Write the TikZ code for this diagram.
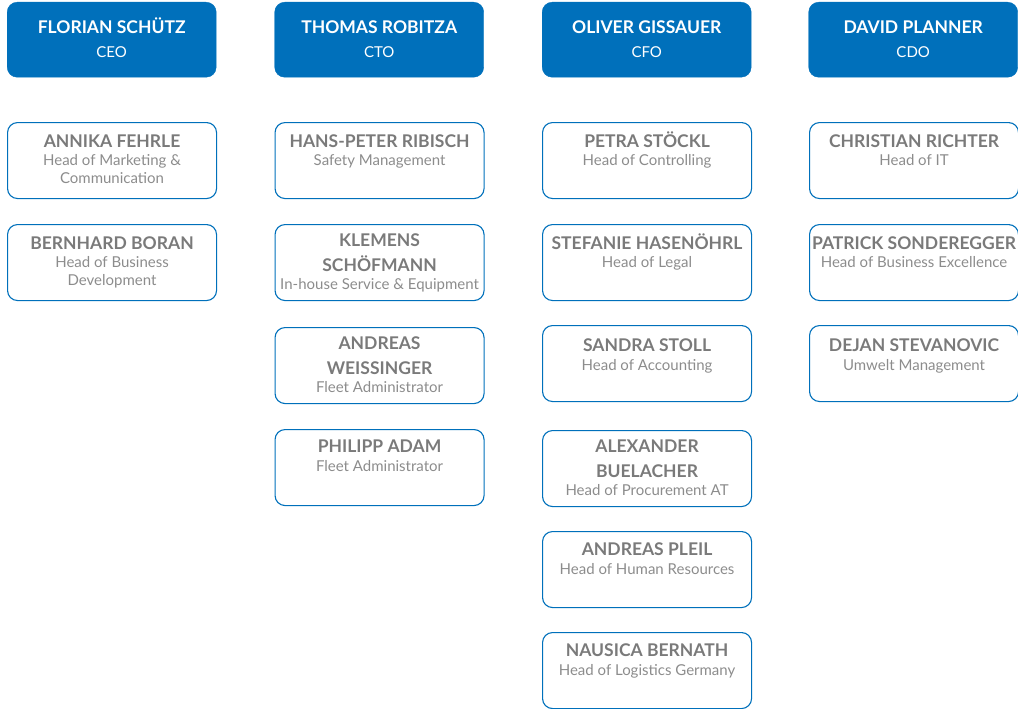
\documentclass[tikz,border=0pt]{standalone}
\usepackage{fontspec}
\setmainfont{Lato}
\usetikzlibrary{calc}
\definecolor{hblue}{HTML}{0070BB}
\definecolor{ngray}{HTML}{7A7A7A}
\definecolor{rgray}{HTML}{8C8C8C}
\tikzset{
  box/.style={draw=hblue, line width=1.1pt, rounded corners=10pt, rectangle,
    minimum width=209pt, minimum height=76pt, anchor=north west, inner sep=0pt},
  hbox/.style={fill=hblue, draw=hblue, rounded corners=10pt, rectangle,
    minimum width=209pt, minimum height=75pt, anchor=north west, inner sep=0pt},
  nm/.style={anchor=base, inner sep=0pt, text=ngray, font=\bfseries\fontsize{17.5}{20}\selectfont},
  rl/.style={anchor=base, inner sep=0pt, text=rgray, font=\fontsize{15}{17}\selectfont},
  hn/.style={anchor=base, inner sep=0pt, text=white, font=\bfseries\fontsize{17.5}{20}\selectfont},
  hr/.style={anchor=base, inner sep=0pt, text=white, font=\fontsize{15}{17}\selectfont},
}
\newcommand{\Bx}[3]{\node[box] (#1) at (#2,#3) {};}
\newcommand{\Nm}[4]{\node[nm] (#1) at ($(#2.north)+(0,#3)$) {#4};}
\newcommand{\Rl}[4]{\node[rl] (#1) at ($(#2.north)+(0,#3)$) {#4};}
\begin{document}
\begin{tikzpicture}[x=1pt,y=-1pt]
\useasboundingbox (0,0) rectangle (1018,709);
% headers
\node[hbox] (h1) at (7,2) {};
\node[hbox] (h2) at (274.5,2) {};
\node[hbox] (h3) at (542,2) {};
\node[hbox] (h4) at (808.5,2) {};
\node[hn] (h1n) at ($(h1.north)+(0,31.5)$) {FLORIAN SCHÜTZ};
\node[hr] (h1r) at ($(h1.north)+(0,56)$) {CEO};
\node[hn] (h2n) at ($(h2.north)+(0,31.5)$) {THOMAS ROBITZA};
\node[hr] (h2r) at ($(h2.north)+(0,56)$) {CTO};
\node[hn] (h3n) at ($(h3.north)+(0,31.5)$) {OLIVER GISSAUER};
\node[hr] (h3r) at ($(h3.north)+(0,56)$) {CFO};
\node[hn] (h4n) at ($(h4.north)+(0,31.5)$) {DAVID PLANNER};
\node[hr] (h4r) at ($(h4.north)+(0,56)$) {CDO};
% column 1
\Bx{a1}{7}{122}
\Nm{a1n}{a1}{25}{ANNIKA FEHRLE}
\Rl{a1r}{a1}{43}{Head of Marketing \&}
\Rl{a1s}{a1}{61}{Communication}
\Bx{a2}{7}{224}
\Nm{a2n}{a2}{25}{BERNHARD BORAN}
\Rl{a2r}{a2}{43}{Head of Business}
\Rl{a2s}{a2}{61}{Development}
% column 2
\Bx{b1}{274.5}{122}
\Nm{b1n}{b1}{25}{HANS-PETER RIBISCH}
\Rl{b1r}{b1}{43}{Safety Management}
\Bx{b2}{274.5}{224}
\Nm{b2n}{b2}{22.5}{KLEMENS}
\Nm{b2m}{b2}{47.5}{SCHÖFMANN}
\Rl{b2r}{b2}{65}{In-house Service \& Equipment}
\Bx{b3}{274.5}{327}
\Nm{b3n}{b3}{22.5}{ANDREAS}
\Nm{b3m}{b3}{47.5}{WEISSINGER}
\Rl{b3r}{b3}{65}{Fleet Administrator}
\Bx{b4}{274.5}{429}
\Nm{b4n}{b4}{23.5}{PHILIPP ADAM}
\Rl{b4r}{b4}{42}{Fleet Administrator}
% column 3
\Bx{c1}{542}{122}
\Nm{c1n}{c1}{25}{PETRA STÖCKL}
\Rl{c1r}{c1}{43}{Head of Controlling}
\Bx{c2}{542}{224}
\Nm{c2n}{c2}{25}{STEFANIE HASENÖHRL}
\Rl{c2r}{c2}{43}{Head of Legal}
\Bx{c3}{542}{325}
\Nm{c3n}{c3}{26}{SANDRA STOLL}
\Rl{c3r}{c3}{45}{Head of Accounting}
\Bx{c4}{542}{430}
\Nm{c4n}{c4}{22.5}{ALEXANDER}
\Nm{c4m}{c4}{47.5}{BUELACHER}
\Rl{c4r}{c4}{65}{Head of Procurement AT}
\Bx{c5}{542}{531}
\Nm{c5n}{c5}{24.5}{ANDREAS PLEIL}
\Rl{c5r}{c5}{43}{Head of Human Resources}
\Bx{c6}{542}{632}
\Nm{c6n}{c6}{24.5}{NAUSICA BERNATH}
\Rl{c6r}{c6}{43}{Head of Logistics Germany}
% column 4
\Bx{d1}{809}{122}
\Nm{d1n}{d1}{25}{CHRISTIAN RICHTER}
\Rl{d1r}{d1}{43}{Head of IT}
\Bx{d2}{809}{224}
\Nm{d2n}{d2}{25}{PATRICK SONDEREGGER}
\Rl{d2r}{d2}{43}{Head of Business Excellence}
\Bx{d3}{809}{325}
\Nm{d3n}{d3}{26}{DEJAN STEVANOVIC}
\Rl{d3r}{d3}{45}{Umwelt Management}
\end{tikzpicture}
\end{document}
